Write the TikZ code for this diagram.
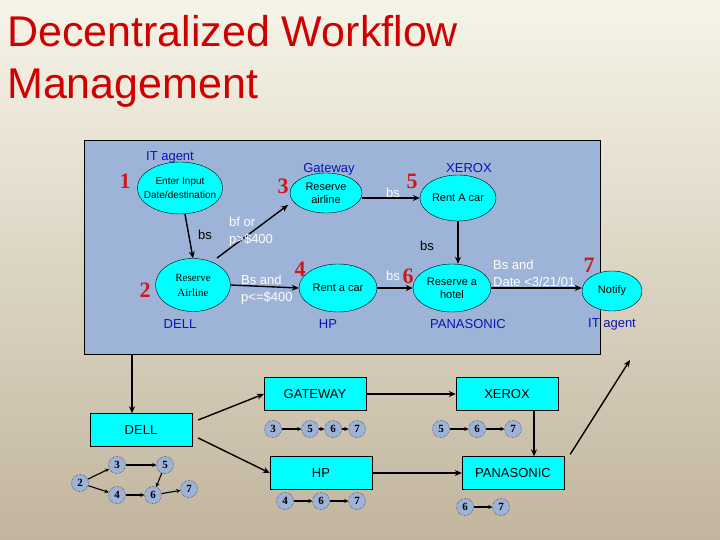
\documentclass[tikz,border=0pt]{standalone}
\usepackage{fontspec}
\setmainfont{Liberation Sans}
\newfontfamily\serif{Liberation Serif}
\usetikzlibrary{shapes.geometric,arrows.meta}
\definecolor{panel}{HTML}{9DB3D7}
\definecolor{cyanf}{HTML}{00FFFF}
\definecolor{lbl}{HTML}{0A14B4}
\definecolor{numr}{HTML}{D01818}
\definecolor{ttl}{HTML}{D00000}
\definecolor{bgA}{HTML}{F6F4E8}
\definecolor{bgB}{HTML}{C2B59E}
\begin{document}
\begin{tikzpicture}[x=1pt,y=-1pt,
  ell/.style={ellipse,draw=black,fill=cyanf,inner sep=0pt,font=\fontsize{11}{13}\selectfont,align=center},
  num/.style={text=numr,font=\serif\bfseries\fontsize{22}{22}\selectfont},
  org/.style={text=lbl,font=\fontsize{13}{14}\selectfont},
  wl/.style={text=white,font=\fontsize{13}{17}\selectfont,align=left,anchor=west,inner sep=0pt},
  bl/.style={text=black,font=\fontsize{13}{14}\selectfont,inner sep=0pt},
  arr/.style={draw=black,line width=1.4pt,-{Stealth[length=7pt,width=6pt]}},
  box/.style={draw=black,fill=cyanf,minimum width=102pt,minimum height=33pt,inner sep=0pt,font=\fontsize{13}{14}\selectfont},
  sc/.style={circle,draw=black,densely dotted,fill=panel,minimum size=17pt,inner sep=0pt,font=\serif\bfseries\fontsize{11}{11}\selectfont},
  sarr/.style={draw=black,line width=1.1pt,solid,-{Stealth[length=4pt,width=4pt]}}]
\shade[top color=bgA,bottom color=bgB,shading angle=0] (0,0) rectangle (720,540);
\useasboundingbox (0,0) rectangle (720,540);
\node[anchor=north west,inner sep=0pt,text=ttl,align=left,font=\fontsize{43}{52}\selectfont] (title) at (7,15) {Decentralized Workflow\\Management};
\draw[fill=panel,draw=black] (84,140) rectangle (600,354);
% ellipses
\node[ell,minimum width=84pt,minimum height=52pt,font=\fontsize{10}{14}\selectfont,inner xsep=-6pt] (e1) at (180,188) {Enter Input\\Date/destination};
\node[ell,minimum width=75pt,minimum height=53pt,font=\serif\fontsize{11}{15}\selectfont] (e2) at (193,285) {Reserve\\Airline};
\node[ell,minimum width=72pt,minimum height=40pt] (e3) at (326,193) {Reserve\\airline};
\node[ell,minimum width=78pt,minimum height=48pt] (e4) at (338,288) {Rent a car};
\node[ell,minimum width=76pt,minimum height=46pt] (e5) at (458,198) {Rent A car};
\node[ell,minimum width=78pt,minimum height=48pt] (e6) at (452,288) {Reserve a\\hotel};
\node[ell,minimum width=60pt,minimum height=40pt] (e7) at (612,291) {Notify};
\node[num] (n1) at (125,181) {1};
\node[num] (n2) at (145,290) {2};
\node[num] (n3) at (283,186) {3};
\node[num] (n4) at (300,269) {4};
\node[num] (n5) at (412,181) {5};
\node[num] (n6) at (408,276) {6};
\node[num] (n7) at (589,265) {7};
\node[org] (o1) at (170,157) {IT agent};
\node[org] (o2) at (180,324) {DELL};
\node[org] (o3) at (329,169) {Gateway};
\node[org] (o4) at (328,324) {HP};
\node[org] (o5) at (469,168) {XEROX};
\node[org] (o6) at (468,324) {PANASONIC};
\node[org] (o7) at (612,324) {IT agent};
\coordinate (a2) at (217,258);
\coordinate (a3) at (288,205);
\draw[arr] (e1.south) ++(5,0) -- (e2.north);
\draw[arr] (a2) -- (a3);
\draw[arr] (e2.east) -- (e4.west);
\draw[arr] (e3.east |- e5) -- (e5.west);
\draw[arr] (e5.south) -- (e6.north -| e5.south);
\draw[arr] (e4.east) -- (e6.west);
\draw[arr] (e6.east) -- (e7.west |- e6.east);
\node[bl] (l1) at (205,235) {bs};
\node[wl] (l2) at (229,232) {bf or\\p>\$400};
\node[wl] (l3) at (241,290) {Bs and\\p<=\$400};
\node[bl,text=white] (l4) at (393,193) {bs};
\node[bl] (l5) at (427,246) {bs};
\node[bl,text=white] (l6) at (393,276) {bs};
\node[wl] (l7) at (493,273) {Bs and\\Date <3/21/01};
% boxes
\node[box] (bd) at (141,430) {DELL};
\node[box] (bg) at (315,394) {GATEWAY};
\node[box] (bh) at (321,473) {HP};
\node[box] (bx) at (507,394) {XEROX};
\node[box] (bp) at (513,473) {PANASONIC};
\coordinate (top) at (132,354);
\coordinate (pe) at (630,360);
\draw[arr,line width=1.6pt] (top) -- (bd.north -| top);
\draw[arr] (bd.east) ++(6,-10) -- (bg.west);
\draw[arr] (bd.east) ++(6,8) -- (bh.west);
\draw[arr] (bg.east) -- (bx.west);
\draw[arr] (bh.east) -- (bp.west);
\draw[arr] (bx.south -| 534,0) -- (bp.north -| 534,0);
\draw[arr] (bp.north east) ++(6,-2) -- (pe);
% small graphs
\node[sc] (d2) at (80,483) {2};
\node[sc] (d3) at (117,465) {3};
\node[sc] (d5) at (165,465) {5};
\node[sc] (d4) at (117,495) {4};
\node[sc] (d6) at (153,495) {6};
\node[sc] (d7) at (189,489) {7};
\draw[sarr] (d2) -- (d3); \draw[sarr] (d2) -- (d4); \draw[sarr] (d3) -- (d5);
\draw[sarr] (d5) -- (d6); \draw[sarr] (d4) -- (d6); \draw[sarr] (d6) -- (d7);
\node[sc] (g3) at (273,429) {3};
\node[sc] (g5) at (310,429) {5};
\node[sc] (g6) at (333,429) {6};
\node[sc] (g7) at (357,429) {7};
\draw[sarr] (g3) -- (g5); \draw[sarr] (g5) -- (g6); \draw[sarr] (g6) -- (g7);
\node[sc] (h4) at (285,501) {4};
\node[sc] (h6) at (321,501) {6};
\node[sc] (h7) at (357,501) {7};
\draw[sarr] (h4) -- (h6); \draw[sarr] (h6) -- (h7);
\node[sc] (x5) at (441,429) {5};
\node[sc] (x6) at (477,429) {6};
\node[sc] (x7) at (513,429) {7};
\draw[sarr] (x5) -- (x6); \draw[sarr] (x6) -- (x7);
\node[sc] (p6) at (465,507) {6};
\node[sc] (p7) at (501,507) {7};
\draw[sarr] (p6) -- (p7);
\end{tikzpicture}
\end{document}
